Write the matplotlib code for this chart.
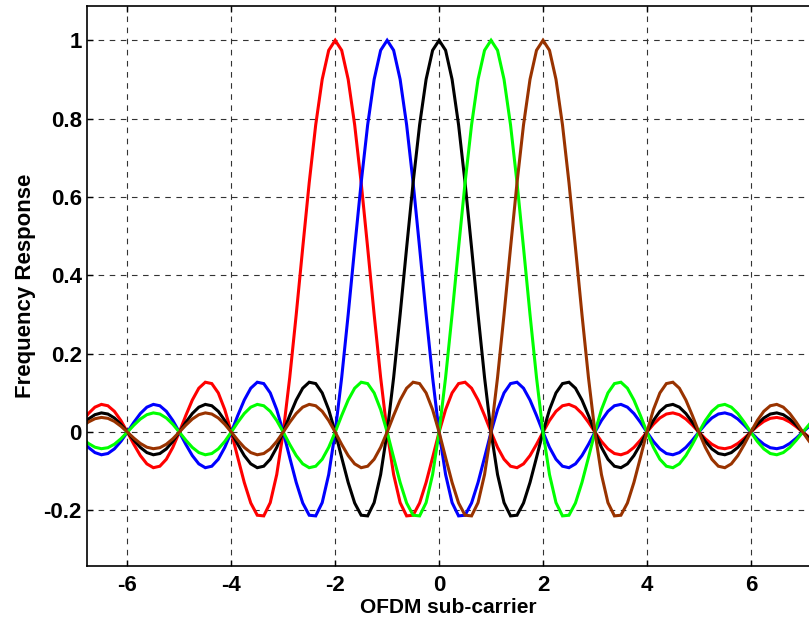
import numpy as np
import matplotlib.pyplot as plt

# sub-carrier centre frequencies and their line colours
carriers = [-2, -1, 0, 1, 2]
colors = ['#ff0000', '#0000ff', '#000000', '#00ff00', '#993300']

# response of one sub-carrier vs. distance from its centre (one side, step 1/8)
step = 0.125
pulse_half = [
    1.0, 0.9745, 0.9003, 0.7842, 0.6366, 0.4705, 0.3001, 0.1392,
    0.0, -0.1083, -0.1801, -0.2139, -0.2122, -0.1810, -0.1286, -0.0650,
    0.0, 0.0573, 0.1000, 0.1238, 0.1273, 0.1120, 0.0818, 0.0424,
    0.0, -0.0390, -0.0693, -0.0871, -0.0909, -0.0811, -0.0600, -0.0314,
    0.0, 0.0295, 0.0530, 0.0672, 0.0707, 0.0636, 0.0474, 0.0250,
    0.0, -0.0238, -0.0429, -0.0547, -0.0579, -0.0523, -0.0391, -0.0207,
    0.0, 0.0199, 0.0360, 0.0461, 0.0490, 0.0444, 0.0333, 0.0177,
    0.0, -0.0171, -0.0310, -0.0399, -0.0424, -0.0386, -0.0290, -0.0155,
    0.0, 0.0150, 0.0273, 0.0351, 0.0374, 0.0341, 0.0257, 0.0137,
    0.0, -0.0133, -0.0243, -0.0314, -0.0335,
]

xticks = [-6, -4, -2, 0, 2, 4, 6]
yticks = [-0.2, 0, 0.2, 0.4, 0.6, 0.8, 1]
ytick_labels = ['-0.2', '0', '0.2', '0.4', '0.6', '0.8', '1']

# mirror the half profile into a symmetric pulse
half = np.array(pulse_half)
offs = np.arange(len(half)) * step
pulse_x = np.concatenate([-offs[:0:-1], offs])
pulse_y = np.concatenate([half[:0:-1], half])

plt.rcParams['font.family'] = ['Liberation Sans', 'DejaVu Sans']
plt.rcParams['font.weight'] = 'bold'

fig = plt.figure(figsize=(8.09, 6.23), dpi=100)
ax = fig.add_axes([0.108, 0.092, 0.892, 0.898])

for k, c in zip(carriers, colors):
    ax.plot(pulse_x + k, pulse_y, color=c, lw=2.2, solid_joinstyle='miter')

ax.set_xlim(-6.77, 7.12)
ax.set_ylim(-0.341, 1.087)
ax.set_xticks(xticks)
ax.set_xticklabels([str(t) for t in xticks])
ax.set_yticks(yticks)
ax.set_yticklabels(ytick_labels)

ax.grid(True, color='#333333', linestyle=(0, (5, 5)), lw=0.8)
ax.tick_params(direction='in', length=4, width=1, labelsize=16, top=True)
ax.tick_params(axis='y', pad=4)
ax.tick_params(axis='x', pad=7)
for side in ['top', 'bottom', 'left']:
    ax.spines[side].set_linewidth(1.2)
ax.spines['right'].set_visible(False)

ax.set_xlabel('OFDM sub-carrier', fontsize=15, fontweight='bold', labelpad=1)
ax.set_ylabel('Frequency Response', fontsize=16, fontweight='bold', labelpad=5)

fig.savefig('out.png', dpi=100)
